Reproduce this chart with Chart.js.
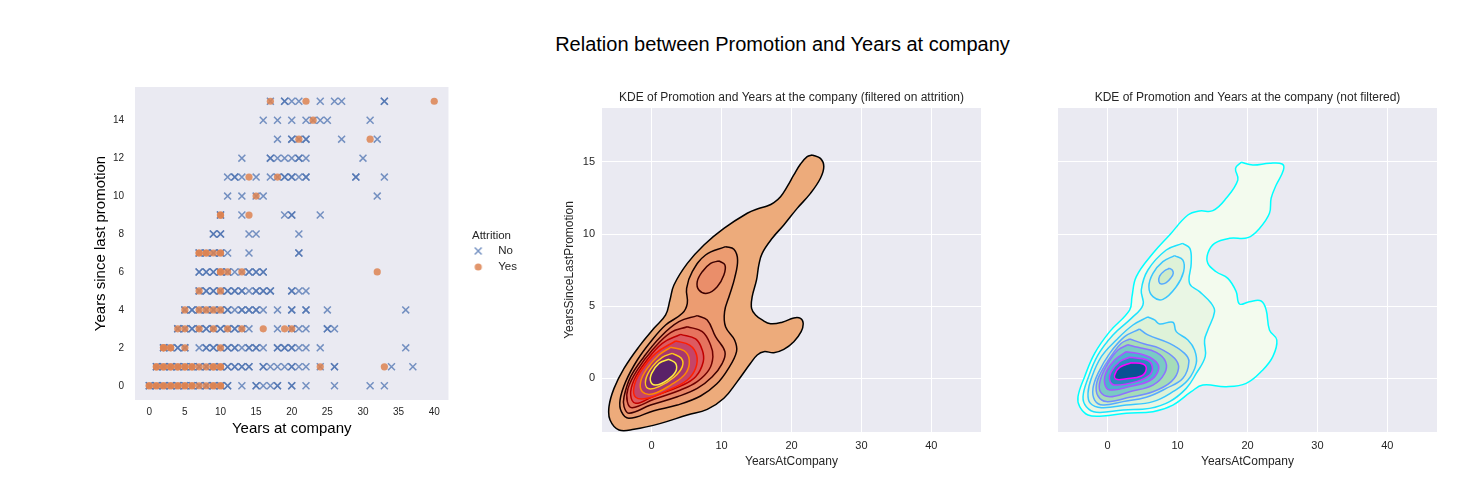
<!DOCTYPE html>
<html>
<head>
<meta charset="utf-8">
<title>Relation between Promotion and Years at company</title>
<script src="https://cdn.jsdelivr.net/npm/chart.js@4/dist/chart.umd.min.js"></script>
<style>
  html, body { margin: 0; padding: 0; background: #fff; }
  body { width: 1479px; height: 495px; position: relative; overflow: hidden; font-family: "Liberation Sans", Arial, sans-serif; }
  #suptitle { position: absolute; left: 0; width: 1565px; top: 32px; text-align: center; font-size: 20px; line-height: 24px; color: #000; }
  canvas { position: absolute; }
  #scatter { left: 85px; top: 70px; }
  #kdeFiltered { left: 560px; top: 80px; }
  #kdeAll { left: 1040px; top: 80px; }
</style>
</head>
<body>
<div id="suptitle">Relation between Promotion and Years at company</div>
<canvas id="scatter" width="450" height="375"></canvas>
<canvas id="kdeFiltered" width="463" height="390"></canvas>
<canvas id="kdeAll" width="415" height="390"></canvas>
<script>
// Years at company for each "years since last promotion" value (index = 0..15)
const promotedNo = [
  [0,0,1,1,2,2,3,3,4,4,5,5,6,6,7,7,8,8,9,9,10,10,11,11,13,15,15,16,17,18,18,20,20,22,26,31,33],
  [1,1,2,2,3,3,4,4,5,5,6,6,7,7,8,8,9,9,10,10,11,11,12,12,13,13,14,14,16,16,17,18,19,20,20,21,22,24,26,26,34,37],
  [2,2,3,4,4,5,5,7,8,8,9,9,10,10,11,11,12,12,13,14,14,15,15,16,18,18,19,19,20,20,21,22,24,36],
  [4,4,5,5,6,6,7,7,8,8,9,9,10,10,11,11,12,12,13,13,14,18,20,20,21,22,25,25,26],
  [5,5,6,6,7,7,8,8,9,9,10,10,11,11,12,13,13,14,14,15,15,16,18,20,20,22,22,25,36],
  [7,7,8,8,9,9,10,10,11,11,12,12,13,13,14,15,15,16,16,17,17,20,20,21,22],
  [7,7,8,8,9,9,10,10,11,11,12,13,14,14,15,15,16,16],
  [7,7,8,8,9,9,10,10,11,14,21,21],
  [9,9,10,10,14,15,21],
  [10,10,13,19,20,20,24],
  [11,13,15,16,32],
  [11,12,12,13,15,17,18,19,19,20,20,21,22,22,29,29,33],
  [13,17,17,18,19,20,21,21,22,30],
  [18,20,20,21,22,22,27,32],
  [16,18,20,22,23,24,25,31],
  [17,19,19,20,21,24,26,27,33,33]
];
const promotedYes = [
  [0,0,1,1,2,2,3,3,4,4,5,5,6,6,7,8,9,9,10,10],
  [1,1,2,2,3,3,4,4,5,5,6,6,7,8,9,9,10,10,24,33],
  [2,2,2,3,3,5,10],
  [4,5,7,9,11,13,16,19,20],
  [5,7,8,9,10],
  [7,10],
  [10,10,11,13,32],
  [7,7,8,8,9,10,10],
  [],
  [10,10,14],
  [15],
  [14,18],
  [],
  [21,31],
  [23],
  [17,22,40]
];

const seriesNames = ['No', 'Yes'];
const filteredTitle = 'KDE of Promotion and Years at the company (filtered on attrition)';
const allTitle = 'KDE of Promotion and Years at the company (not filtered)';

// Contours of the filtered KDE, [YearsAtCompany, YearsSinceLastPromotion]
const filteredL1 = [[22.95,15.49],[24.14,15.25],[24.62,14.68],[24.14,13.87],[22.71,12.82],[20.81,11.78],[18.9,10.63],[17.24,9.7],[15.81,8.66],[15.33,7.85],[15,6.81],[14.38,5.65],[14.29,4.84],[14.86,4.38],[15.81,4.03],[17,3.77],[18.67,3.87],[20.33,4.17],[21.29,4.14],[21.67,3.8],[21.38,3.22],[20.33,2.52],[18.9,1.99],[17.48,1.76],[16.05,1.83],[15.1,1.6],[14.14,1.02],[12.24,-0.25],[10.33,-1.41],[7.95,-2.18],[5.1,-2.57],[1.29,-3.15],[-2.52,-3.56],[-4.67,-3.61],[-5.95,-2.92],[-6.1,-1.99],[-5.38,-0.72],[-3.95,0.67],[-1.81,2.18],[0.33,3.45],[2,4.38],[2.62,5.42],[3.19,6.46],[5.1,7.96],[7.48,9.24],[10.33,10.39],[13.67,11.44],[15.1,11.74],[16.52,11.94],[17.48,12.18],[18.43,12.59],[19.38,13.29],[20.33,14.1],[21.29,14.86],[22.24,15.37]];
const filteredL2 = [[10.57,9.12],[11.76,8.94],[12.29,8.19],[11.86,6.92],[11.14,5.76],[10.43,4.61],[10.57,3.56],[11.86,2.64],[12.14,1.83],[10.9,0.6],[9.29,-0.42],[7,-1.25],[3.67,-1.88],[0.33,-2.27],[-3.24,-2.8],[-4.33,-2.34],[-4.52,-1.53],[-3.71,-0.25],[-2.05,1.25],[-0.14,2.52],[2,3.68],[4.38,4.49],[5.1,5.19],[5,6.23],[5.81,7.38],[7.71,8.54]];
const filteredL3a = [[9.62,8.13],[10.48,7.85],[10.33,7.15],[9.38,6.34],[7.95,5.88],[6.76,6.11],[6.52,6.69],[7.24,7.38],[8.43,7.96]];
const filteredL3b = [[6.52,4.33],[7.95,4.03],[9.14,2.87],[10.48,1.83],[10.1,1.02],[8.67,0.09],[6.52,-0.72],[3.67,-1.3],[-0.14,-1.88],[-3.24,-2.45],[-3.95,-1.99],[-3.95,-1.3],[-3,0.09],[-1.1,1.48],[1.29,2.87],[3.9,3.91]];
const filteredL4 = [[5.1,3.56],[7.24,3.22],[8.43,2.29],[8.76,1.48],[8.19,0.56],[6.52,-0.25],[4.14,-0.83],[0.33,-1.48],[-2.76,-2.06],[-3.48,-1.64],[-3.38,-0.72],[-2.05,0.56],[0.1,1.94],[2.71,3.15]];
const filteredL5 = [[4.14,3.03],[6.29,2.71],[7.24,1.94],[7.38,1.13],[6.29,0.09],[4.14,-0.56],[0.33,-1.25],[-2.29,-1.76],[-3,-1.18],[-2.52,-0.14],[-0.86,1.13],[1.52,2.41]];
const filteredL6 = [[3.43,2.57],[5.43,2.29],[6.43,1.6],[6.29,0.67],[5.1,-0.14],[2.24,-0.88],[-0.62,-1.41],[-2.29,-1.34],[-2.52,-0.6],[-1.57,0.44],[0.57,1.71]];
const filteredL7 = [[2.71,2.13],[4.62,1.9],[5.38,1.25],[4.86,0.32],[2.71,-0.49],[0.1,-1.11],[-1.33,-0.95],[-1.57,-0.25],[-0.62,0.67],[1.05,1.6]];
const filteredL8 = [[2.95,1.71],[4.24,1.37],[4.38,0.79],[3.19,0.05],[1.05,-0.6],[-0.52,-0.72],[-0.86,-0.14],[0.1,0.79],[1.52,1.44]];
const filteredL9 = [[2.48,1.3],[3.43,1.02],[3.43,0.44],[2.24,-0.14],[0.57,-0.49],[-0.14,-0.25],[0,0.32],[1.05,1.02]];

// Contours of the unfiltered KDE
const allL1 = [[19.1,14.98],[20.76,14.79],[23.14,14.91],[24.95,14.86],[25.14,14.44],[24.1,13.4],[23.38,12.48],[23.14,11.44],[21.71,10.39],[20.05,9.75],[17.43,9.7],[15.29,9.35],[14.33,8.66],[14.33,7.96],[15.52,7.38],[17.19,6.92],[18.38,6],[18.86,5.14],[20.29,5.3],[21.95,5.35],[22.67,4.72],[23.14,3.33],[24.19,2.64],[23.62,1.48],[22.19,0.56],[19.81,-0.37],[16.95,-0.6],[13.62,-0.49],[11.95,-0.95],[9.33,-1.88],[6.48,-2.34],[2.67,-2.45],[-0.67,-2.64],[-2.81,-2.57],[-4,-1.99],[-4.24,-1.3],[-3.29,0.09],[-1.86,1.71],[0.29,3.22],[3.14,4.72],[3.48,5.65],[4.1,7.04],[6.48,8.66],[8.86,9.93],[11.48,11.32],[13.14,11.6],[15.05,11.62],[16.95,12.48],[18.62,13.75],[18.29,14.56]];
const allL2 = [[10.71,9.35],[11.76,9],[11.95,7.96],[11.71,6.57],[13.14,6],[14.81,5.19],[15.29,4.61],[14.33,3.33],[13.86,2.64],[13.95,1.48],[12.67,0.32],[11.24,-0.72],[8.86,-1.64],[6,-2.11],[2.19,-2.22],[-1.62,-2.38],[-3.05,-1.99],[-3.52,-1.3],[-2.81,-0.02],[-1.38,1.6],[0.76,2.99],[3.38,4.14],[5.05,5.07],[4.81,6.11],[5.76,7.5],[8.38,8.89]];
const allL3a = [[9.57,8.5],[10.76,8.19],[10.86,7.38],[9.81,6.34],[7.9,5.46],[6.48,5.65],[5.9,6.34],[6.48,7.27],[7.9,8.08]];
const allL3b = [[5.76,4.24],[6.71,4.03],[7.43,3.75],[9.33,3.87],[9.81,3.22],[11.48,2.64],[12.43,1.94],[12.67,1.02],[11.48,-0.14],[9.33,-0.95],[6.48,-1.64],[2.67,-1.88],[-0.9,-2.06],[-2.48,-1.76],[-2.81,-1.06],[-2.33,-0.02],[-0.9,1.48],[1.24,2.64],[3.62,3.68]];
const allL4a = [[8.86,7.62],[9.24,7.5],[9.38,7.27],[9.1,6.99],[8.38,6.62],[7.67,6.53],[7.33,6.69],[7.43,7.08],[8.14,7.45]];
const allL4b = [[4.57,3.4],[5.76,2.99],[8.86,2.41],[11,1.71],[11.62,1.13],[10.76,-0.02],[8.38,-0.72],[5.52,-1.34],[2.19,-1.64],[-0.67,-1.88],[-1.86,-1.53],[-2.1,-0.72],[-1.38,0.32],[0.29,1.71],[2.43,2.87]];
const allL5 = [[3.14,2.71],[5.29,2.36],[7.43,2.06],[9.57,1.37],[10.14,0.67],[9.1,-0.25],[6.48,-0.95],[3.14,-1.34],[-0.19,-1.64],[-1.38,-1.25],[-1.62,-0.49],[-0.9,0.44],[0.76,1.71],[1.95,2.41]];
const allL6 = [[2.9,2.31],[4.33,2.13],[6.95,1.78],[8.29,1.13],[8.14,0.32],[6.48,-0.49],[3.14,-0.95],[0.29,-1.3],[-1.05,-0.95],[-1.05,-0.14],[0.05,1.02],[1.48,1.94]];
const allL7 = [[2.67,1.83],[5.52,1.55],[7.1,1.02],[7.19,0.44],[6,-0.19],[3.14,-0.6],[0.29,-0.83],[-0.43,-0.37],[-0.19,0.44],[1,1.25]];
const allL8 = [[3.14,1.44],[5.62,1.25],[6.38,0.79],[6,0.21],[4.1,-0.25],[1,-0.49],[0.29,-0.14],[0.52,0.44],[1.71,1.13]];
const allL9 = [[3.38,1.06],[5.05,0.97],[5.52,0.6],[4.81,0.14],[2.67,-0.05],[1.24,-0.09],[1,0.21],[1.71,0.74]];

Chart.defaults.font.family = '"Liberation Sans", Arial, sans-serif';
Chart.defaults.color = '#262626';
Chart.defaults.animation = false;

const plotBackground = {
  id: 'plotBackground',
  beforeDraw(chart) {
    const { ctx, chartArea: a } = chart;
    ctx.save();
    ctx.fillStyle = '#EAEAF2';
    ctx.fillRect(a.left, a.top, a.right - a.left, a.bottom - a.top);
    ctx.restore();
  }
};

// The legend floats beside the scatter plot instead of hugging the canvas edge
const legendPlacement = {
  id: 'legendPlacement',
  beforeDraw(chart) {
    const legend = chart.legend;
    legend.left = 374.5;
    legend.right = 438.5;
    legend.width = 64;
    legend.top = 160.25;
    legend.bottom = 226;
    legend.height = legend.bottom - legend.top;
  }
};

function scatterPoints(rows) {
  const points = [];
  rows.forEach((years, promotion) => {
    years.forEach(year => points.push({ x: year, y: promotion }));
  });
  return points;
}

// Small canvas used as a legend symbol so it keeps its size next to the wide label box
function legendMarker(pointStyle, radius, borderWidth, color) {
  const marker = document.createElement('canvas');
  marker.width = 14;
  marker.height = 14;
  const ctx = marker.getContext('2d');
  ctx.fillStyle = color;
  ctx.strokeStyle = color;
  ctx.lineWidth = borderWidth;
  Chart.helpers.drawPoint(ctx, { pointStyle, radius, borderWidth }, 7, 7);
  return marker;
}

// One filled closed contour; lower order draws on top so inner levels get a low order
function contour(pairs, fill, line, order) {
  const points = pairs.map(([x, y]) => ({ x, y }));
  points.push(points[0]);
  return {
    data: points,
    showLine: true,
    fill: 'shape',
    backgroundColor: fill,
    borderColor: line,
    borderWidth: 1.5,
    pointRadius: 0,
    tension: 0.4,
    order: order
  };
}

// Force the axis boxes to a fixed size so the plot areas land where they should
function fixedWidth(width) {
  return scale => { scale.width = width; };
}
function fixedHeight(height) {
  return scale => { scale.height = height; };
}

const noColor = 'rgba(76,114,176,0.75)';
const yesColor = 'rgba(221,132,82,0.85)';
const legendSymbols = [
  legendMarker('crossRot', 4.9, 1.5, noColor),
  legendMarker('circle', 3.6, 0, yesColor)
];

new Chart(document.getElementById('scatter'), {
  type: 'scatter',
  data: {
    datasets: [
      {
        label: seriesNames[0],
        data: scatterPoints(promotedNo),
        pointStyle: 'crossRot',
        pointRadius: 4.9,
        pointBorderWidth: 1.5,
        borderColor: noColor,
        backgroundColor: noColor,
        pointBorderColor: noColor,
        order: 2
      },
      {
        label: seriesNames[1],
        data: scatterPoints(promotedYes),
        pointStyle: 'circle',
        pointRadius: 3.6,
        pointBorderWidth: 0,
        borderColor: yesColor,
        backgroundColor: yesColor,
        order: 1
      }
    ]
  },
  options: {
    responsive: false,
    layout: { padding: { top: 16, right: 19 } },
    plugins: {
      tooltip: { enabled: false },
      legend: {
        position: 'right',
        align: 'start',
        title: {
          display: true, text: 'Attrition', color: '#262626',
          font: { size: 11.5, lineHeight: 1 }, padding: { top: 0, bottom: -1 }
        },
        labels: {
          usePointStyle: true,
          pointStyleWidth: 28.5,
          boxHeight: 6,
          padding: 4.5,
          font: { size: 11.5 },
          color: '#262626',
          sort: (a, b) => a.datasetIndex - b.datasetIndex,
          generateLabels(chart) {
            const items = Chart.defaults.plugins.legend.labels.generateLabels(chart);
            items.forEach(item => { item.pointStyle = legendSymbols[item.datasetIndex]; });
            return items;
          }
        }
      }
    },
    scales: {
      x: {
        min: -2, max: 42,
        afterFit: fixedHeight(45),
        grid: { display: false, drawTicks: false },
        border: { display: false },
        ticks: { stepSize: 5, includeBounds: false, padding: 6, maxRotation: 0, font: { size: 10 } },
        title: { display: true, text: 'Years at company', color: '#000', font: { size: 15 }, padding: { top: 0, bottom: 7 } }
      },
      y: {
        min: -0.75, max: 15.75,
        afterFit: fixedWidth(50),
        grid: { display: false, drawTicks: false },
        border: { display: false },
        ticks: { stepSize: 2, includeBounds: false, padding: 11, font: { size: 10 } },
        title: { display: true, text: 'Years since last promotion', color: '#000', font: { size: 15 }, padding: { top: 7, bottom: 0 } }
      }
    }
  },
  plugins: [plotBackground, legendPlacement]
});

function kdeOptions(titleText, leftWidth, rightPad, showY) {
  return {
    responsive: false,
    layout: { padding: { right: rightPad } },
    plugins: {
      legend: { display: false },
      tooltip: { enabled: false },
      title: {
        display: true, text: titleText, color: '#262626', fullSize: false,
        font: { size: 12, weight: 'normal' }, padding: { top: 10.5, bottom: 3.1 }
      }
    },
    scales: {
      x: {
        min: -7.1, max: 47.1,
        afterFit: fixedHeight(38),
        grid: { color: '#fff', lineWidth: 1, drawTicks: false },
        border: { display: false },
        ticks: { stepSize: 10, includeBounds: false, padding: 7, maxRotation: 0, font: { size: 11 } },
        title: { display: true, text: 'YearsAtCompany', color: '#262626', font: { size: 12 }, padding: { top: 0, bottom: 1 } }
      },
      y: {
        min: -3.75, max: 18.75,
        afterFit: fixedWidth(leftWidth),
        grid: { color: '#fff', lineWidth: 1, drawTicks: false },
        border: { display: false },
        ticks: { display: showY, stepSize: 5, includeBounds: false, padding: 7, font: { size: 11 } },
        title: { display: showY, text: 'YearsSinceLastPromotion', color: '#262626', font: { size: 12 }, padding: { top: 2, bottom: 0 } }
      }
    }
  };
}

new Chart(document.getElementById('kdeFiltered'), {
  type: 'scatter',
  data: {
    datasets: [
      contour(filteredL1, '#EDAB7B', '#000000', 10),
      contour(filteredL2, '#EC9C71', '#120000', 9),
      contour(filteredL3a, '#EA8E6A', '#3C0000', 8),
      contour(filteredL3b, '#EA8868', '#3C0000', 8),
      contour(filteredL4, '#E6735E', '#6E0000', 7),
      contour(filteredL5, '#DD5A60', '#C00000', 6),
      contour(filteredL6, '#C54468', '#FF1F00', 5),
      contour(filteredL7, '#A6376F', '#FF8A00', 4),
      contour(filteredL8, '#80296F', '#FFC81A', 3),
      contour(filteredL9, '#5A2168', '#FFEE44', 2)
    ]
  },
  options: kdeOptions(filteredTitle, 42, 42, true),
  plugins: [plotBackground]
});

new Chart(document.getElementById('kdeAll'), {
  type: 'scatter',
  data: {
    datasets: [
      contour(allL1, '#F3FBEE', '#00FFFF', 10),
      contour(allL2, '#E9F6E4', '#1CE3FF', 9),
      contour(allL3a, '#DEF2D8', '#38C7FF', 8),
      contour(allL3b, '#DEF2D8', '#38C7FF', 8),
      contour(allL4a, '#CEEBC8', '#55AAFF', 7),
      contour(allL4b, '#CEEBC8', '#55AAFF', 7),
      contour(allL5, '#A6DCB8', '#718EFF', 6),
      contour(allL6, '#7ACAC4', '#8E71FF', 5),
      contour(allL7, '#4EB0D0', '#AA55FF', 4),
      contour(allL8, '#2A8BBE', '#C738FF', 3),
      contour(allL9, '#0A5294', '#FF00FF', 2)
    ]
  },
  options: kdeOptions(allTitle, 18, 18, false),
  plugins: [plotBackground]
});
</script>
</body>
</html>
